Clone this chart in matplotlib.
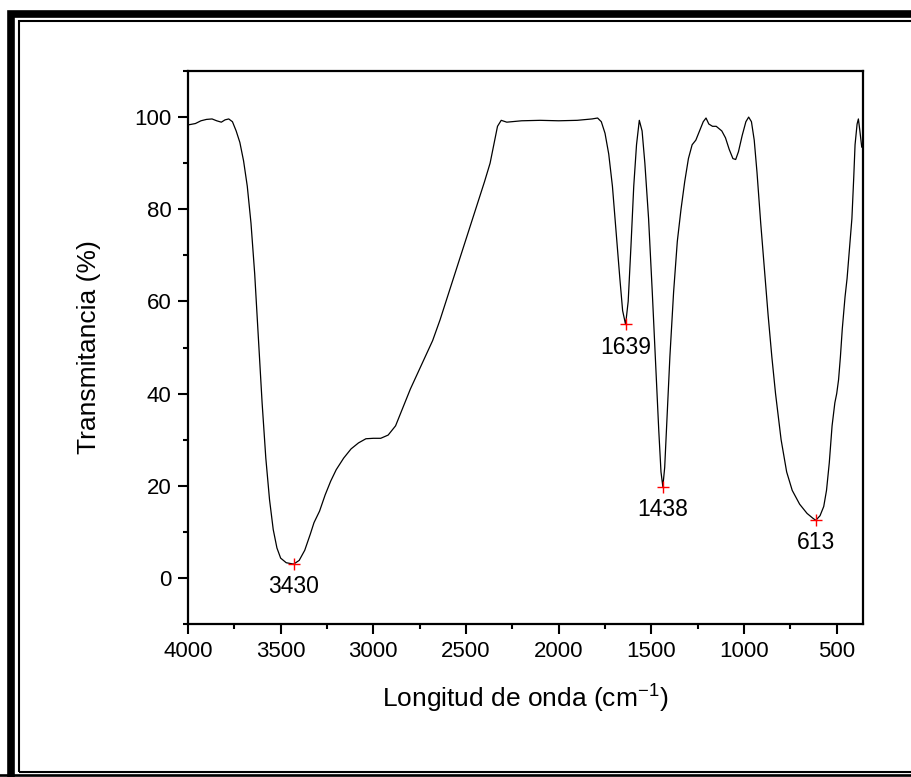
import numpy as np
import matplotlib
matplotlib.use('Agg')
import matplotlib.pyplot as plt
from matplotlib.patches import Rectangle
from matplotlib.ticker import MultipleLocator

plt.rcParams['font.family'] = ['Liberation Sans', 'DejaVu Sans']

# FTIR spectrum (wavenumber in cm-1, transmittance in %)
wavenumber = [4000, 3960, 3930, 3900, 3870, 3845, 3820, 3800, 3780, 3760,
              3740, 3720, 3700, 3680, 3660, 3640, 3620, 3600, 3580, 3560,
              3540, 3520, 3500, 3470, 3430, 3400, 3370, 3340, 3320, 3290,
              3260, 3230, 3200, 3160, 3120, 3080, 3040, 3000, 2960, 2920,
              2880, 2840, 2800, 2760, 2720, 2680, 2640, 2600, 2560, 2520,
              2480, 2440, 2400, 2370, 2350, 2330, 2310, 2280, 2200, 2100,
              2000, 1900, 1820, 1790, 1770, 1750, 1730, 1710, 1690, 1670,
              1655, 1639, 1625, 1610, 1595, 1580, 1565, 1550, 1535, 1515,
              1495, 1475, 1460, 1448, 1438, 1428, 1415, 1400, 1380, 1360,
              1340, 1320, 1300, 1280, 1260, 1240, 1220, 1205, 1190, 1170,
              1150, 1120, 1100, 1080, 1060, 1045, 1030, 1010, 990, 975,
              960, 945, 930, 910, 890, 870, 850, 830, 800, 770,
              740, 700, 660, 630, 613, 590, 570, 555, 540, 525,
              510, 500, 490, 480, 470, 455, 444, 430, 418, 408,
              401, 390, 383, 375, 365]
transmittance = [98.3, 98.6, 99.2, 99.5, 99.6, 99.2, 98.9, 99.4, 99.6, 99.0,
                 97.0, 94.5, 90.5, 85.0, 77.0, 66.0, 52.0, 38.0, 26.0, 17.0,
                 10.5, 6.5, 4.3, 3.3, 3.0, 3.8, 6.0, 9.5, 12.0, 14.5,
                 18.0, 21.0, 23.5, 26.0, 28.0, 29.3, 30.2, 30.3, 30.3, 31.0,
                 33.0, 37.0, 41.0, 44.5, 48.0, 51.5, 56.0, 61.0, 66.0, 71.0,
                 76.0, 81.0, 86.0, 90.0, 94.0, 98.0, 99.3, 98.9, 99.2, 99.3,
                 99.2, 99.3, 99.6, 99.8, 99.0, 96.5, 92.0, 85.0, 75.0, 65.0,
                 58.0, 55.0, 60.0, 72.0, 85.0, 94.0, 99.3, 97.0, 90.0, 78.0,
                 62.0, 45.0, 32.0, 23.0, 19.8, 24.0, 35.0, 48.0, 62.0, 73.0,
                 80.0, 86.0, 91.0, 94.0, 95.0, 97.0, 99.0, 99.8, 98.5, 98.0,
                 98.0, 97.0, 95.5, 93.0, 91.0, 90.8, 92.5, 96.0, 99.0, 100.0,
                 99.0, 95.0, 88.0, 77.0, 67.0, 57.0, 48.0, 40.0, 30.0, 23.0,
                 19.0, 16.0, 14.0, 13.0, 12.5, 13.5, 15.5, 19.0, 25.0, 33.0,
                 38.0, 40.0, 43.0, 48.0, 54.0, 61.0, 65.0, 72.0, 78.0, 87.0,
                 94.0, 98.5, 99.6, 97.0, 93.5]

# marked peaks
peak_x = [3430, 1639, 1438, 613]
peak_y = [3.0, 55.0, 19.8, 12.5]
peak_labels = ['3430', '1639', '1438', '613']

fig = plt.figure(figsize=(9.12, 7.77), dpi=100)
ax = fig.add_axes([0.2061, 0.1969, 0.7402, 0.7117])

ax.plot(wavenumber, transmittance, color='black', lw=0.9)
ax.plot(peak_x, peak_y, '+', color='red', ms=8, mew=1.0)
for px, py, lab in zip(peak_x, peak_y, peak_labels):
    ax.annotate(lab, (px, py), xytext=(0, -8), textcoords='offset points',
                ha='center', va='top', fontsize=16.5)

ax.set_xlim(4000, 358)
ax.set_ylim(-10, 110)
ax.xaxis.set_major_locator(MultipleLocator(500))
ax.xaxis.set_minor_locator(MultipleLocator(250))
ax.yaxis.set_major_locator(MultipleLocator(20))
ax.yaxis.set_minor_locator(MultipleLocator(10))
ax.tick_params(which='major', direction='out', length=7, width=1.5,
               labelsize=16, pad=5)
ax.tick_params(which='minor', direction='out', length=3.8, width=1.5)
for s in ax.spines.values():
    s.set_linewidth(1.6)

ax.set_xlabel(r'Longitud de onda (cm$^{\mathregular{-1}}$)', fontsize=19, labelpad=14)
ax.set_ylabel('Transmitancia (%)', fontsize=19, labelpad=24)

# double frame around the picture (pixel coordinates, right side off-canvas)
W, H = 912, 777
fig.patches.append(Rectangle((11 / W, -5 / H), 920 / W, (H - 13.5 + 5) / H,
                             transform=fig.transFigure, fill=False,
                             ec='black', lw=5.5))
fig.patches.append(Rectangle((18.5 / W, (H - 771.5) / H), 920 / W,
                             (771.5 - 20.5) / H, transform=fig.transFigure,
                             fill=False, ec='black', lw=1.5))
fig.patches.append(Rectangle((0, (H - 775.5) / H), 1.2, 0.001,
                             transform=fig.transFigure, fill=False,
                             ec='black', lw=1.2))

fig.savefig('out.png', dpi=100)
